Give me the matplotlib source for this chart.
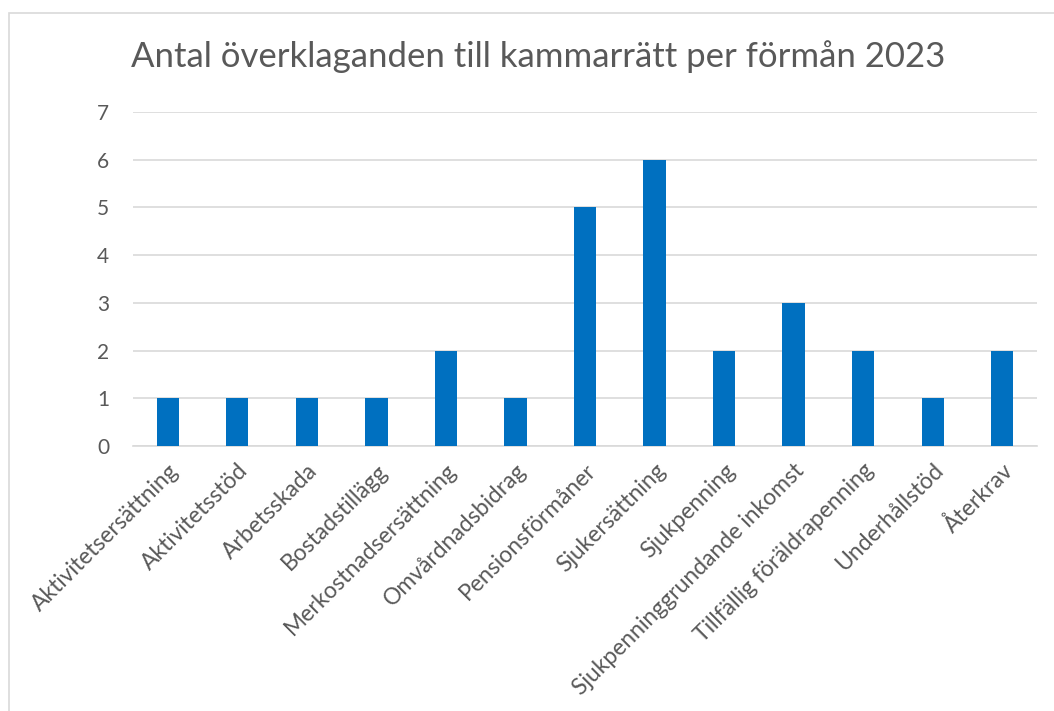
import matplotlib
matplotlib.use('Agg')
import matplotlib.pyplot as plt
from matplotlib.patches import Rectangle

# data
categories = ['Aktivitetsersättning', 'Aktivitetsstöd', 'Arbetsskada', 'Bostadstillägg',
              'Merkostnadsersättning', 'Omvårdnadsbidrag', 'Pensionsförmåner',
              'Sjukersättning', 'Sjukpenning', 'Sjukpenninggrundande inkomst',
              'Tillfällig föräldrapenning', 'Underhållstöd', 'Återkrav']
counts = [1, 1, 1, 1, 2, 1, 5, 6, 2, 3, 2, 1, 2]
y_ticks = [0, 1, 2, 3, 4, 5, 6, 7]

TEXT = '#595959'
GRID = '#D9D9D9'
BAR = '#0070C0'

W, H = 1054, 711
plt.rcParams['font.family'] = ['Lato', 'DejaVu Sans']

fig = plt.figure(figsize=(W / 100, H / 100), dpi=100)

# chart area border (only left/top visible in the crop)
fig.patches.append(Rectangle((9 / W, -0.1), 1.2, 1 - 13 / H + 0.1,
                             transform=fig.transFigure, fill=False,
                             edgecolor=GRID, linewidth=1.2))

ax = fig.add_axes([133 / W, 1 - 446 / H, (1037 - 133) / W, (446 - 112) / H])
x = range(len(categories))
ax.bar(x, counts, width=0.32, color=BAR, zorder=3)

ax.set_xlim(-0.5, len(categories) - 0.5)
ax.set_ylim(0, 7)
ax.set_yticks(y_ticks)
ax.set_yticklabels([str(v) for v in y_ticks], fontsize=15, color=TEXT)
ax.yaxis.grid(True, color=GRID, linewidth=1.2, zorder=0)
ax.tick_params(axis='y', length=0, pad=17)
ax.tick_params(axis='x', length=0, pad=10)
ax.set_xticks(list(x))
ax.set_xticklabels(categories, rotation=45, ha='right', va='top',
                   rotation_mode='anchor', fontsize=16.5, color=TEXT)
for s in ['top', 'right', 'left']:
    ax.spines[s].set_visible(False)
ax.spines['bottom'].set_color(GRID)
ax.spines['bottom'].set_linewidth(1.2)

fig.text(538 / W, 1 - 57 / H, 'Antal överklaganden till kammarrätt per förmån 2023',
         ha='center', va='center', fontsize=25, color=TEXT)

fig.savefig('out.png', dpi=100)
